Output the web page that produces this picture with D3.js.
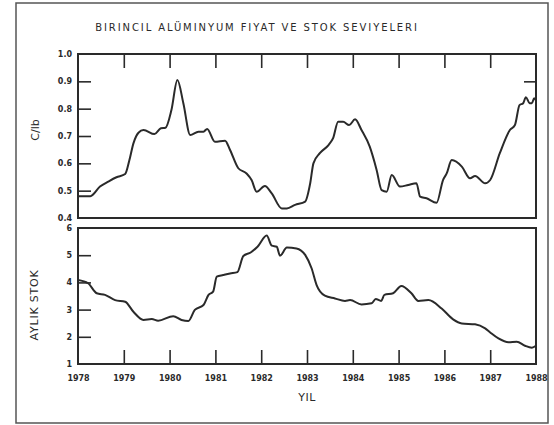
<!DOCTYPE html>
<html>
<head>
<meta charset="utf-8">
<script src="https://cdn.jsdelivr.net/npm/d3@7"></script>
<style>
  body { margin: 0; background: #fff; }
  svg text { font-family: "DejaVu Sans", sans-serif; fill: #2a2a2a; }
</style>
</head>
<body>
<script>
// price, cents per lb (decimal year, value)
const priceYears = [1978.0, 1978.27, 1978.48, 1978.66, 1978.84, 1979.03, 1979.12, 1979.21, 1979.32, 1979.43,
  1979.67, 1979.81, 1979.91, 1980.04, 1980.17, 1980.30, 1980.45, 1980.63, 1980.74, 1980.82,
  1980.99, 1981.21, 1981.32, 1981.50, 1981.68, 1981.79, 1981.90, 1982.08, 1982.23, 1982.45,
  1982.56, 1982.74, 1982.96, 1983.07, 1983.14, 1983.28, 1983.47, 1983.57, 1983.68, 1983.79,
  1983.92, 1984.05, 1984.19, 1984.37, 1984.52, 1984.63, 1984.74, 1984.85, 1985.03, 1985.21,
  1985.39, 1985.47, 1985.61, 1985.83, 1985.97, 1986.05, 1986.16, 1986.38, 1986.56, 1986.67,
  1986.89, 1987.00, 1987.21, 1987.43, 1987.54, 1987.64, 1987.72, 1987.78, 1987.86, 1987.91,
  1987.96, 1988.0];
const priceValues = [0.48, 0.48, 0.515, 0.533, 0.549, 0.561, 0.61, 0.673, 0.712, 0.722,
  0.707, 0.728, 0.73, 0.795, 0.905, 0.82, 0.704, 0.716, 0.716, 0.726,
  0.679, 0.683, 0.649, 0.582, 0.563, 0.539, 0.496, 0.517, 0.49, 0.435,
  0.435, 0.448, 0.46, 0.527, 0.60, 0.637, 0.667, 0.692, 0.752, 0.752,
  0.74, 0.761, 0.722, 0.661, 0.576, 0.502, 0.496, 0.557, 0.515, 0.521,
  0.527, 0.478, 0.472, 0.456, 0.539, 0.563, 0.612, 0.588, 0.545, 0.554,
  0.527, 0.539, 0.637, 0.722, 0.74, 0.813, 0.82, 0.842, 0.82, 0.82,
  0.838, 0.83];

// monthly stock
const stockYears = [1978.0, 1978.22, 1978.41, 1978.59, 1978.81, 1979.03, 1979.21, 1979.43, 1979.61, 1979.75,
  1980.08, 1980.26, 1980.41, 1980.55, 1980.74, 1980.85, 1980.95, 1981.03, 1981.17, 1981.32,
  1981.48, 1981.61, 1981.77, 1981.92, 1982.12, 1982.23, 1982.34, 1982.41, 1982.56, 1982.77,
  1982.96, 1983.10, 1983.21, 1983.39, 1983.61, 1983.83, 1983.94, 1984.19, 1984.41, 1984.50,
  1984.62, 1984.69, 1984.88, 1985.06, 1985.28, 1985.43, 1985.65, 1985.94, 1986.19, 1986.38,
  1986.67, 1986.89, 1987.00, 1987.18, 1987.40, 1987.58, 1987.76, 1987.91, 1988.0];
const stockValues = [4.09, 3.97, 3.60, 3.54, 3.35, 3.29, 2.92, 2.62, 2.65, 2.59,
  2.76, 2.62, 2.58, 2.99, 3.17, 3.54, 3.66, 4.21, 4.27, 4.33,
  4.38, 4.97, 5.10, 5.31, 5.72, 5.35, 5.31, 4.98, 5.28, 5.25,
  5.01, 4.52, 3.90, 3.51, 3.41, 3.32, 3.35, 3.19, 3.23, 3.39,
  3.32, 3.54, 3.60, 3.87, 3.60, 3.32, 3.35, 3.04, 2.64, 2.49,
  2.46, 2.31, 2.16, 1.94, 1.80, 1.82, 1.67, 1.60, 1.67];

const years = d3.range(1978, 1989);
const priceTicks = [0.4, 0.5, 0.6, 0.7, 0.8, 0.9, 1.0];
const stockTicks = [1, 2, 3, 4, 5, 6];

const w = 554, h = 425;
const ink = '#2a2a2a';

const svg = d3.select('body').append('svg').attr('width', w).attr('height', h);

// outer frame
svg.append('rect').attr('x', 16).attr('y', 3).attr('width', 532).attr('height', 420)
  .attr('fill', 'none').attr('stroke', '#555').attr('stroke-width', 1.5);

svg.append('text').attr('x', 257).attr('y', 31).attr('text-anchor', 'middle')
  .attr('font-size', 10).attr('letter-spacing', 1.9)
  .text('BIRINCIL ALÜMINYUM FIYAT VE STOK SEVIYELERI');

const xScale = d3.scaleLinear().domain([1978, 1988]).range([78, 536]);
const yPrice = d3.scaleLinear().domain([0.4, 1.0]).range([218, 54]);
const yStock = d3.scaleLinear().domain([1, 6]).range([364, 228]);

function panel(top, bottom) {
  svg.append('rect').attr('x', xScale.range()[0]).attr('y', top)
    .attr('width', xScale.range()[1] - xScale.range()[0]).attr('height', bottom - top)
    .attr('fill', 'none').attr('stroke', ink).attr('stroke-width', 2);
}

panel(54, 218);
panel(228, 364);

// top panel ticks: years on top edge pointing down
const inner = years.slice(1, -1);
svg.append('g').attr('transform', 'translate(0,54)')
  .call(d3.axisBottom(xScale).tickValues(inner).tickSize(14).tickFormat(''))
  .call(g => g.select('.domain').remove())
  .call(g => g.selectAll('line').attr('stroke', ink).attr('stroke-width', 1.6));

svg.append('g').attr('transform', 'translate(78,0)')
  .call(d3.axisRight(yPrice).tickValues(priceTicks.slice(1, -1)).tickSize(13).tickFormat(''))
  .call(g => g.select('.domain').remove())
  .call(g => g.selectAll('line').attr('stroke', ink).attr('stroke-width', 1.6));

svg.append('g').attr('transform', 'translate(536,0)')
  .call(d3.axisLeft(yPrice).tickValues([0.9]).tickSize(12).tickFormat(''))
  .call(g => g.select('.domain').remove())
  .call(g => g.selectAll('line').attr('stroke', ink).attr('stroke-width', 1.6));

svg.append('g').attr('transform', 'translate(72,0)')
  .call(d3.axisLeft(yPrice).tickValues(priceTicks).tickSize(0).tickPadding(0).tickFormat(d3.format('.1f')))
  .call(g => g.select('.domain').remove())
  .call(g => g.selectAll('text').attr('font-size', 8).attr('font-weight', 'bold').attr('fill', ink));

// bottom panel ticks
svg.append('g').attr('transform', 'translate(0,364)')
  .call(d3.axisTop(xScale).tickValues(inner).tickSize(14).tickFormat(''))
  .call(g => g.select('.domain').remove())
  .call(g => g.selectAll('line').attr('stroke', ink).attr('stroke-width', 1.6));

svg.append('g').attr('transform', 'translate(78,0)')
  .call(d3.axisRight(yStock).tickValues(stockTicks.slice(1, -1)).tickSize(13).tickFormat(''))
  .call(g => g.select('.domain').remove())
  .call(g => g.selectAll('line').attr('stroke', ink).attr('stroke-width', 1.6));

svg.append('g').attr('transform', 'translate(72,0)')
  .call(d3.axisLeft(yStock).tickValues(stockTicks).tickSize(0).tickPadding(0).tickFormat(d3.format('d')))
  .call(g => g.select('.domain').remove())
  .call(g => g.selectAll('text').attr('font-size', 8).attr('font-weight', 'bold').attr('fill', ink));

svg.append('g').attr('transform', 'translate(0,368)')
  .call(d3.axisBottom(xScale).tickValues(years).tickSize(0).tickPadding(7).tickFormat(d3.format('d')))
  .call(g => g.select('.domain').remove())
  .call(g => g.selectAll('text').attr('font-size', 8).attr('font-weight', 'bold').attr('fill', ink));

// axis titles
svg.append('text').attr('x', 307).attr('y', 401).attr('text-anchor', 'middle')
  .attr('font-size', 11).attr('letter-spacing', 0.5).text('YIL');

svg.append('text').attr('transform', 'translate(39,130) rotate(-90)')
  .attr('text-anchor', 'middle').attr('font-size', 11).text('C/lb');

svg.append('text').attr('transform', 'translate(38,305) rotate(-90)')
  .attr('text-anchor', 'middle').attr('font-size', 11).attr('letter-spacing', 0.8).text('AYLIK STOK');

// lines
const priceLine = d3.line().x((d, i) => xScale(priceYears[i])).y(d => yPrice(d)).curve(d3.curveMonotoneX);
const stockLine = d3.line().x((d, i) => xScale(stockYears[i])).y(d => yStock(d)).curve(d3.curveMonotoneX);

svg.append('path').datum(priceValues).attr('d', priceLine)
  .attr('fill', 'none').attr('stroke', ink).attr('stroke-width', 2).attr('stroke-linejoin', 'round');

svg.append('path').datum(stockValues).attr('d', stockLine)
  .attr('fill', 'none').attr('stroke', ink).attr('stroke-width', 2).attr('stroke-linejoin', 'round');
</script>
</body>
</html>
